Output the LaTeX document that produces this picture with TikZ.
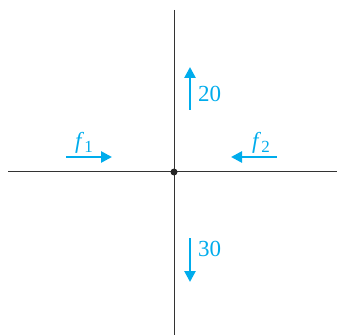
\documentclass[tikz,border=0pt]{standalone}
\usepackage{fontspec}
\setmainfont{Liberation Serif}
\usetikzlibrary{arrows.meta}
\definecolor{fcyan}{RGB}{0,172,236}
\tikzset{
  axis/.style={draw=black!80, line width=1pt},
  force/.style={draw=fcyan, line width=2.6pt, -{Triangle[length=11pt,width=11pt]}},
  lbl/.style={text=fcyan, font=\fontsize{23}{26}\selectfont, inner sep=0pt}
}
\newcommand{\fsub}[1]{\textit{f}\kern0.3pt\raisebox{-4pt}{\fontsize{17}{19}\selectfont #1}}
\begin{document}
\begin{tikzpicture}[x=1pt,y=1pt]
\useasboundingbox (0,0) rectangle (337,335);
\coordinate (top) at (174,325);
\coordinate (bot) at (174,0);
\coordinate (left) at (8,163);
\coordinate (right) at (337,163);
\draw[axis] (top) -- (bot);
\draw[axis] (left) -- (right);
\node[circle, fill=black!85, inner sep=0pt, minimum size=7pt] (o) at (174,163) {};
% f1
\coordinate (f1s) at (66,178);
\coordinate (f1e) at (112,178);
\draw[force] (f1s) -- (f1e);
\node[lbl, anchor=base] (f1) at (84,186) {\fsub{1}};
% f2
\coordinate (f2s) at (277,178);
\coordinate (f2e) at (231,178);
\draw[force] (f2s) -- (f2e);
\node[lbl, anchor=base] (f2) at (261,186) {\fsub{2}};
% 20
\coordinate (u1) at (190,225);
\coordinate (u2) at (190,268);
\draw[force] (u1) -- (u2);
\node[lbl, anchor=base west] (n20) at (198,233) {20};
% 30
\coordinate (d1) at (190,97);
\coordinate (d2) at (190,53);
\draw[force] (d1) -- (d2);
\node[lbl, anchor=base west] (n30) at (198,79) {30};
\end{tikzpicture}
\end{document}
